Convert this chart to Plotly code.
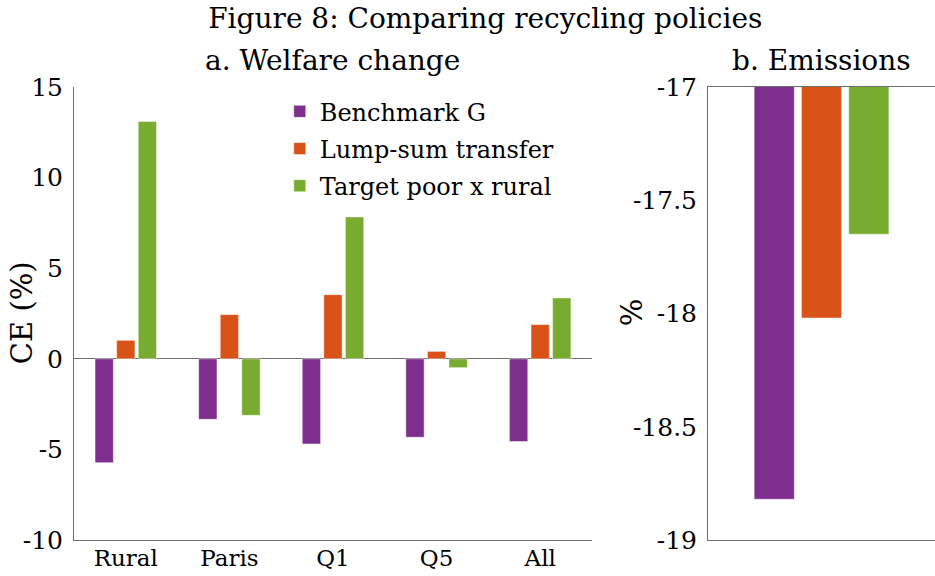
import plotly.graph_objects as go
from plotly.subplots import make_subplots

regions = ["Rural", "Paris", "Q1", "Q5", "All"]
policies = ["Benchmark G", "Lump-sum transfer", "Target poor x rural"]
colors = ["#7E2F8E", "#D95319", "#77AC30"]

welfare_benchmark = [-5.73, -3.34, -4.70, -4.33, -4.57]
welfare_lumpsum = [1.02, 2.44, 3.54, 0.41, 1.89]
welfare_target = [13.1, -3.12, 7.83, -0.49, 3.36]

emissions = [-18.82, -18.02, -17.65]

left_ticks = [15, 10, 5, 0, -5, -10]
right_ticks = [-17, -17.5, -18, -18.5, -19]

FONT = "DejaVu Serif"

fig = make_subplots(rows=1, cols=2)

welfare = [welfare_benchmark, welfare_lumpsum, welfare_target]
for i, name in enumerate(policies):
    fig.add_trace(go.Bar(x=regions, y=welfare[i], name=name, marker_color=colors[i],
                         legendgroup=name,
                         marker_line=dict(color="rgba(255,255,255,0.6)", width=0.8)),
                  row=1, col=1)
    fig.add_trace(go.Bar(x=[""], y=[emissions[i]], name=name, marker_color=colors[i],
                         legendgroup=name,
                         marker_line=dict(color="rgba(255,255,255,0.6)", width=0.8),
                         showlegend=False),
                  row=1, col=2)

axis_line = dict(showline=True, linecolor="#6e6e6e", linewidth=1, ticks="", showgrid=False,
                 automargin=False, tickfont=dict(family=FONT, size=25, color="black"))

fig.update_xaxes(axis_line)
fig.update_yaxes(axis_line, ticklabelstandoff=5)

fig.update_xaxes(domain=[0, 0.6016], range=[-0.5, 4.5], tickfont_size=23,
                 ticklabelstandoff=-3, row=1, col=1)
fig.update_xaxes(domain=[0.7364, 1], range=[-0.5, 0.5], showticklabels=False, mirror=True, row=1, col=2)
fig.update_yaxes(range=[-10, 15], tickvals=left_ticks, ticktext=[str(v) for v in left_ticks],
                 zeroline=True, zerolinecolor="#6e6e6e", zerolinewidth=1, row=1, col=1)
fig.update_yaxes(range=[-19, -17], tickvals=right_ticks,
                 ticktext=[("%g" % v) for v in right_ticks], zeroline=False, row=1, col=2)

ann_font = dict(family=FONT, size=28, color="black")
fig.add_annotation(text="a. Welfare change", x=0.3008, y=1.0596, xref="paper", yref="paper",
                   showarrow=False, font=ann_font, xanchor="center", yanchor="middle")
fig.add_annotation(text="b. Emissions", x=0.8687, y=1.0596, xref="paper", yref="paper",
                   showarrow=False, font=ann_font, xanchor="center", yanchor="middle")
fig.add_annotation(text="CE (%)", x=-0.0604, y=0.503, xref="paper", yref="paper", textangle=-90,
                   showarrow=False, font=dict(family=FONT, size=29, color="black"),
                   xanchor="center", yanchor="middle")
fig.add_annotation(text="%", x=0.6481, y=0.503, xref="paper", yref="paper", textangle=-90,
                   showarrow=False, font=dict(family=FONT, size=29, color="black"),
                   xanchor="center", yanchor="middle")

fig.update_layout(
    width=935, height=576,
    margin=dict(l=74, r=0, t=87, b=36, autoexpand=False),
    paper_bgcolor="white", plot_bgcolor="white",
    barmode="group", bargap=0.375, bargroupgap=0.15,
    title=dict(text="Figure 8: Comparing recycling policies", x=0.519, xanchor="center",
               y=0.969, yanchor="middle", font=dict(family=FONT, size=28, color="black")),
    legend=dict(x=0.239, y=0.995, xanchor="left", yanchor="top", bgcolor="rgba(0,0,0,0)",
                font=dict(family=FONT, size=24, color="black"), tracegroupgap=3),
    showlegend=True,
)

fig.write_html("out.html", config={"displayModeBar": False},
               post_script="document.body.style.margin='0';")
